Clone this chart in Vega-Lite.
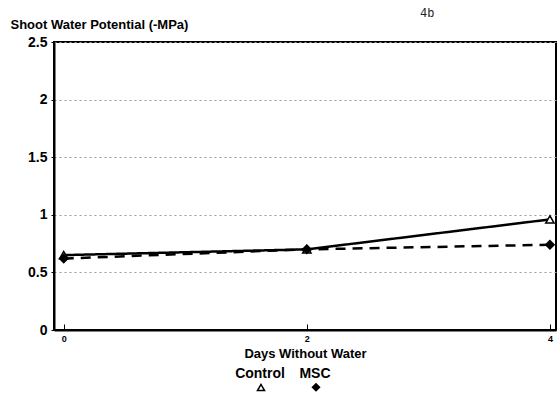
{
  "$schema": "https://vega.github.io/schema/vega-lite/v6.json",
  "width": 502,
  "height": 288,
  "autosize": "none",
  "padding": {"left": 54, "top": 42, "right": 4, "bottom": 74},
  "background": "white",
  "title": {"text": "4b", "anchor": "start", "frame": "group", "dx": 366, "dy": 22, "offset": 20, "font": "Liberation Mono, DejaVu Sans Mono, monospace", "fontSize": 12, "fontWeight": "normal", "color": "#222222"},
  "config": {
    "view": {"stroke": "black", "strokeWidth": 2},
    "font": "Liberation Sans"
  },
  "data": {"values": [
    {"day": 0, "psi": 0.65, "treatment": "Control"},
    {"day": 2, "psi": 0.70, "treatment": "Control"},
    {"day": 4, "psi": 0.96, "treatment": "Control"},
    {"day": 0, "psi": 0.62, "treatment": "MSC"},
    {"day": 2, "psi": 0.70, "treatment": "MSC"},
    {"day": 4, "psi": 0.74, "treatment": "MSC"}
  ]},
  "encoding": {
    "x": {"field": "day", "type": "quantitative",
      "scale": {"domain": [-0.08, 4.05], "nice": false, "zero": false},
      "axis": {"values": [0, 2, 4], "title": "Days Without Water", "grid": false,
        "domainColor": "black", "domainWidth": 2, "tickColor": "black", "tickSize": -6, "tickWidth": 1,
        "labelFont": "Liberation Sans", "labelFontWeight": "bold", "labelFontSize": 9, "labelPadding": 10, "labelColor": "black",
        "titleFont": "Liberation Sans", "titleFontWeight": "bold", "titleFontSize": 13, "titlePadding": 4, "titleColor": "black"}},
    "y": {"field": "psi", "type": "quantitative",
      "scale": {"domain": [0, 2.5], "nice": false},
      "axis": {"values": [0, 0.5, 1, 1.5, 2, 2.5], "title": "Shoot Water Potential (-MPa)", "labelExpr": "'' + datum.value",
        "grid": true, "gridDash": [2, 3], "gridColor": "#999", "gridWidth": 1,
        "domainColor": "black", "domainWidth": 2, "tickColor": "black", "tickSize": 3,
        "labelFont": "Liberation Sans", "labelFontWeight": "bold", "labelFontSize": 14, "labelColor": "black", "labelPadding": 4,
        "titleAngle": 0, "titleX": -44, "titleY": -14, "titleAlign": "left", "titleBaseline": "alphabetic",
        "titleFont": "Liberation Sans", "titleFontWeight": "bold", "titleFontSize": 13, "titleColor": "black"}}
  },
  "layer": [
    {"mark": {"type": "line", "color": "black", "strokeWidth": 2.5},
      "encoding": {
        "detail": {"field": "treatment", "type": "nominal"},
        "strokeDash": {"condition": {"test": "datum.treatment == 'MSC'", "value": [10, 7]}, "value": [1, 0]}}},
    {"mark": {"type": "point", "color": "black", "stroke": "black", "opacity": 1, "size": 70, "strokeWidth": 1.5, "filled": false},
      "encoding": {
        "shape": {"field": "treatment", "type": "nominal",
          "scale": {"domain": ["Control", "MSC"], "range": ["triangle-up", "diamond"]},
          "legend": {"orient": "none", "legendX": 200, "legendY": 338, "direction": "horizontal", "title": null,
            "labelFont": "Liberation Sans", "labelFontWeight": "bold", "labelFontSize": 14, "labelColor": "black", "labelAlign": "center",
            "symbolStrokeColor": "black", "symbolStrokeWidth": 1.5, "symbolOpacity": 1, "symbolSize": 50, "columnPadding": 14,
            "encode": {"labels": {"update": {"dx": {"value": -12}, "dy": {"value": -13}}}}}},
        "fill": {"field": "treatment", "type": "nominal", "scale": {"domain": ["Control", "MSC"], "range": ["white", "black"]},
          "legend": {"orient": "none", "legendX": 200, "legendY": 338, "direction": "horizontal", "title": null,
            "labelFont": "Liberation Sans", "labelFontWeight": "bold", "labelFontSize": 14, "labelColor": "black", "labelAlign": "center",
            "symbolStrokeColor": "black", "symbolStrokeWidth": 1.5, "symbolOpacity": 1, "symbolSize": 50, "columnPadding": 14,
            "encode": {"labels": {"update": {"dx": {"value": -12}, "dy": {"value": -13}}}}}}}}
  ]
}
